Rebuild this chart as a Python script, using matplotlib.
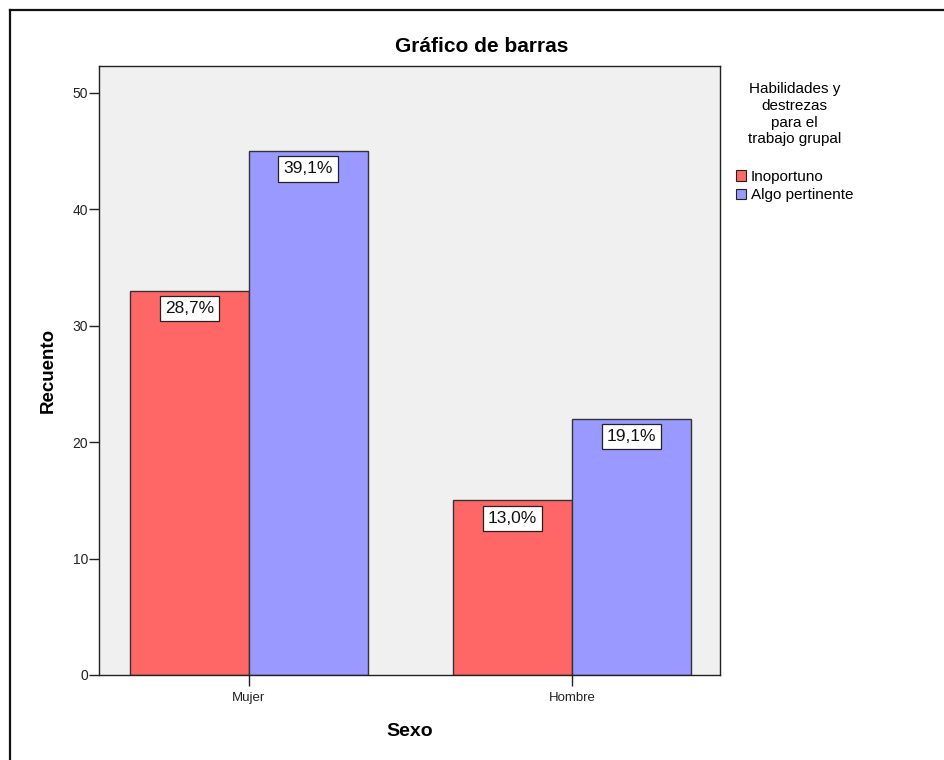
import matplotlib
matplotlib.use("Agg")
import matplotlib.pyplot as plt
from matplotlib.lines import Line2D
from matplotlib.patches import Patch
from matplotlib import font_manager

plt.rcParams['font.family'] = ['Liberation Sans', 'DejaVu Sans']

def has_font(name):
    try:
        font_manager.findfont(name, fallback_to_default=False)
        return True
    except Exception:
        return False

narrow = 'Liberation Sans Narrow' if has_font('Liberation Sans Narrow') else 'Liberation Sans'

# ---- data ----
categories = ["Mujer", "Hombre"]
series_names = ["Inoportuno", "Algo pertinente"]
inoportuno = [33, 15]
algo_pertinente = [45, 22]
pct_inoportuno = ["28,7%", "13,0%"]
pct_algo = ["39,1%", "19,1%"]
yticks = [0, 10, 20, 30, 40, 50]

colors = ["#FF6666", "#9999FF"]

W, H = 944, 760
fig = plt.figure(figsize=(W / 100, H / 100), dpi=100)
fig.patch.set_facecolor("white")

# axes placement (pixels)
L, R, B, T = 99, 720, 675, 66
ax = fig.add_axes([L / W, 1 - B / H, (R - L) / W, (B - T) / H])
ax.set_facecolor("#F0F0F0")

x = list(range(len(categories)))
bw = 0.368
series = [inoportuno, algo_pertinente]
labels = [pct_inoportuno, pct_algo]
offsets = [-bw / 2, bw / 2]
for s, vals in enumerate(series):
    xs = [xi + offsets[s] for xi in x]
    ax.bar(xs, vals, width=bw, color=colors[s], edgecolor="#333333", linewidth=1.0, zorder=2)
    for xi, v, lab in zip(xs, vals, labels[s]):
        ax.annotate(lab, xy=(xi, v), xytext=(0, -7.5), textcoords="offset points",
                    ha="center", va="top", fontsize=12.5, color="#111111", zorder=3,
                    bbox=dict(boxstyle="square,pad=0.3", fc="white", ec="#222222", lw=0.9))

ax.set_xlim(-0.464, 1.458)
ax.set_ylim(0, 52.3)
ax.set_xticks(x)
ax.set_xticklabels(categories, fontsize=9.5, family=narrow, color="#222222")
ax.set_yticks(yticks)
ax.set_yticklabels([str(t) for t in yticks], fontsize=10, family=narrow, color="#222222")
ax.tick_params(axis="y", direction="out", length=7, width=1, pad=1, color="#222222")
ax.tick_params(axis="x", direction="out", length=8, width=1, pad=4, color="#222222")
for sp in ax.spines.values():
    sp.set_color("#222222")
    sp.set_linewidth(1.0)

ax.set_xlabel("Sexo", fontsize=14, fontweight="bold", labelpad=14)
ax.set_ylabel("Recuento", fontsize=13.5, fontweight="bold", labelpad=11)

fig.text(482 / W, 1 - 47 / H, "Gráfico de barras", ha="center", va="center",
         fontsize=15, fontweight="bold")

handles = [Patch(facecolor=colors[i], edgecolor="#222222", linewidth=0.8, label=series_names[i])
           for i in range(2)]
leg = fig.legend(handles=handles, title="Habilidades y\ndestrezas\npara el\ntrabajo grupal",
                 loc="upper left", bbox_to_anchor=(736 / W, 1 - 82 / H), frameon=False,
                 fontsize=11, title_fontsize=11, handlelength=0.65, handleheight=0.65,
                 handletextpad=0.3, labelspacing=0.3, borderaxespad=0, borderpad=0)
leg.get_title().set_multialignment("center")
leg.get_title().set_linespacing(1.25)
leg._legend_box.sep = 17

# figure border (top and left visible)
fig.add_artist(Line2D([10 / W, 10 / W], [0, 1 - 10 / H], transform=fig.transFigure,
                      color="#111111", linewidth=1.6))
fig.add_artist(Line2D([10 / W, 1], [1 - 10 / H, 1 - 10 / H], transform=fig.transFigure,
                      color="#111111", linewidth=1.6))

fig.savefig("out.png", dpi=100, facecolor="white")
